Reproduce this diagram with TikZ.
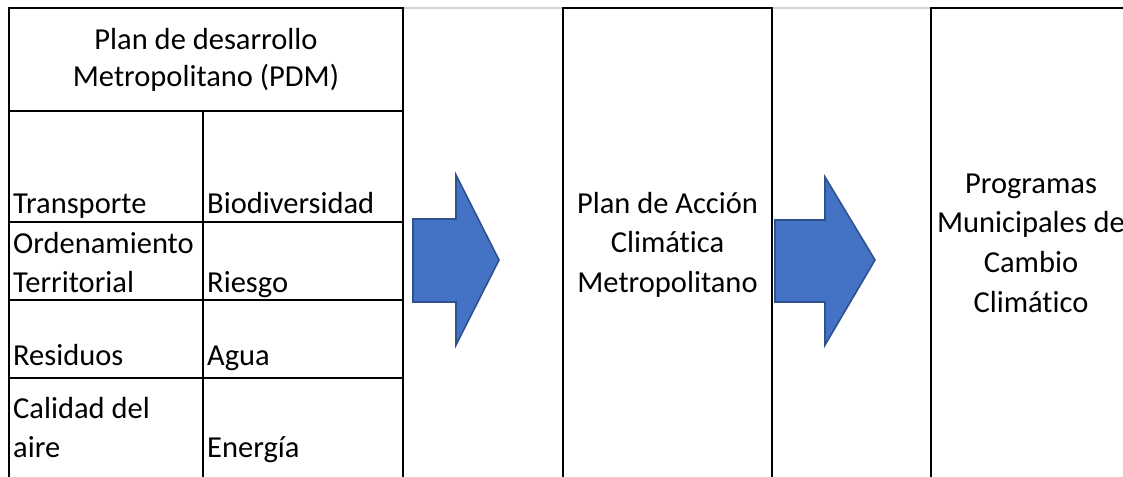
\documentclass[tikz,border=0pt]{standalone}
\usepackage{fontspec}
\setmainfont{Carlito}[Ligatures={NoCommon}]
\definecolor{arrowblue}{HTML}{4472C4}
\definecolor{arrowedge}{HTML}{2F528F}
\definecolor{gridgray}{HTML}{D4D4D4}
\begin{document}
\begin{tikzpicture}[x=1pt,y=-1pt,
  rule/.style={line width=1.6pt, black},
  faint/.style={line width=1.2pt, gridgray},
  txt/.style={font=\fontsize{30.5}{39.5}\selectfont, inner sep=0pt, anchor=base west},
  ctxt/.style={font=\fontsize{30.5}{39.5}\selectfont, inner sep=0pt, anchor=base},
  blockarrow/.style={fill=arrowblue, draw=arrowedge, line width=1.6pt, line join=miter}]
\useasboundingbox (0,0) rectangle (1123,476);
\clip (0,0) rectangle (1123,476);
% corner coordinates
\coordinate (L0) at (9,8);   \coordinate (L1) at (403,8);
\coordinate (M0) at (563,8); \coordinate (M1) at (772,8);
\coordinate (R0) at (931,8); \coordinate (R1) at (1140,8);
% faint gridlines between boxes
\draw[faint] (L1) -- (M0);
\draw[faint] (M1) -- (R0);
% left table
\draw[rule] (9,480) -- (L0) -- (L1) -- (403,480);
\draw[rule] (9,111) -- (404,111);
\draw[rule] (9,222) -- (404,222);
\draw[rule] (9,300) -- (404,300);
\draw[rule] (9,378) -- (404,378);
\draw[rule] (203,111) -- (203,480);
% middle box
\draw[rule] (563,480) -- (M0) -- (M1) -- (772,480);
% right box
\draw[rule] (931,480) -- (R0) -- (R1);
% arrows
\draw[blockarrow] (413,219) -- (456,219) -- (456,175) -- (499,260) -- (456,345) -- (456,302) -- (413,302) -- cycle;
\draw[blockarrow] (775,220) -- (825,220) -- (825,177) -- (875,260) -- (825,345) -- (825,302) -- (775,302) -- cycle;
% header
\node[ctxt] (h1) at (206,50) {Plan de desarrollo};
\node[ctxt] (h2) at (206,87) {Metropolitano (PDM)};
% left column
\node[txt] (t1) at (13,213) {Transporte};
\node[txt] (t2) at (13,253) {Ordenamiento};
\node[txt] (t3) at (13,292) {Territorial};
\node[txt] (t4) at (13,365) {Residuos};
\node[txt] (t5) at (13,418) {Calidad del};
\node[txt] (t6) at (13,457) {aire};
% right column
\node[txt] (s1) at (207,213) {Biodiversidad};
\node[txt] (s2) at (207,292) {Riesgo};
\node[txt] (s3) at (207,365) {Agua};
\node[txt] (s4) at (207,457) {Energía};
% middle text
\node[ctxt] (m1) at (667.5,213) {Plan de Acción};
\node[ctxt] (m2) at (667.5,252) {Climática};
\node[ctxt] (m3) at (667.5,292) {Metropolitano};
% right text
\node[ctxt] (r1) at (1031,193) {Programas};
\node[ctxt] (r2) at (1031,232) {Municipales de};
\node[ctxt] (r3) at (1031,272) {Cambio};
\node[ctxt] (r4) at (1031,312) {Climático};
\end{tikzpicture}
\end{document}
